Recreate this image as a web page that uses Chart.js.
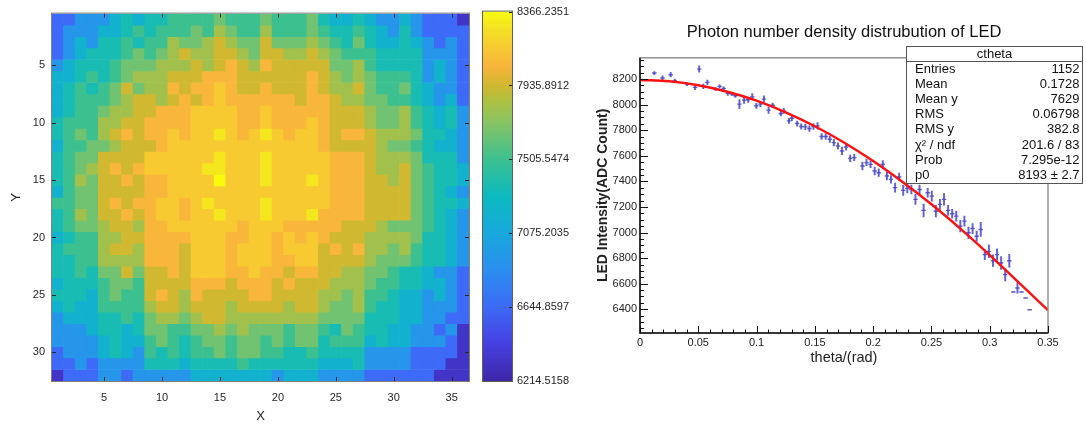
<!DOCTYPE html>
<html>
<head>
<meta charset="utf-8">
<title>LED photon density</title>
<script src="https://cdn.jsdelivr.net/npm/chart.js@4.4.1/dist/chart.umd.min.js"></script>
<style>
  html, body { margin: 0; padding: 0; background: #fff; }
  #wrap { position: relative; width: 1086px; height: 426px; overflow: hidden; }
  canvas { position: absolute; top: 0; }
</style>
</head>
<body>
<div id="wrap">
  <canvas id="heat" width="470" height="426" style="left:0"></canvas>
  <canvas id="cbar" width="120" height="426" style="left:470px"></canvas>
  <canvas id="prof" width="496" height="426" style="left:590px"></canvas>
</div>
<script>
// ---- left: intensity map, 36 x 32 cells ----
const mapXTicks = [5, 10, 15, 20, 25, 30, 35];
const mapYTicks = [5, 10, 15, 20, 25, 30];

// colour level of each cell, top row first
const levelCodes = '0123456789ABC';
const levelValues = [6330, 6645, 6930, 7180, 7350, 7505, 7655, 7805, 7935, 8055, 8160, 8290, 8366];
const heatRows = [
  '112223434455556555655564334322321110',
  '122233454555657655755565445432421111',
  '123244545576678766866676546433432121',
  '123444565678778876887787655544442221',
  '234445666777878987988888667544442321',
  '334545677788899988888898767655542321',
  '34545686779899A988988898778655643221',
  '34555678878989A999999899877665543231',
  '345567788999AAAA99A99999888766754342',
  '455577889999AAAA99A999A9888766754342',
  '4565789899A9AABA9ABA9AA9899877764432',
  '3556678889AAAAAAAAAAAAA9888876654332',
  '45668888AAAAAABAAABAAAAA999877764442',
  '45678989AAAAABBAAABAAAAA999877865443',
  '4576889899AAAACAAABAAABA999887865443',
  '3566888899AAAAAAAAAAAAAA999888865432',
  '556689899AA9ABAAAABAAAAA999888865443',
  '457688989AA9AABAAABAAAB9999888865432',
  '4566788799AAAAAA9AAA9999988876665432',
  '345577889999AAA99AA9A9A9888777764432',
  '455578879998AAA9AAA9AAA8989776754432',
  '445577779998AAA9AAA99AA8888766654432',
  '445466868898AAA99A998998877665443221',
  '344456658888999899989888777655443321',
  '444356558987988889988887767554332321',
  '343355557887888788887887667544332221',
  '233344546776788777777776666444332211',
  '222344346655667676665665465443322120',
  '222234335654566566565664555343322210',
  '122234325454556566554454444222211110',
  '112122224443444454444443334222211100',
  '011122122222333333323332222111111000'
];

// ---- colour bar ----
const cbTicks = [6214.5158, 6644.8597, 7075.2035, 7505.5474, 7935.8912, 8366.2351];

// ---- right: profile vs theta ----
const thetaPts = [0.0123, 0.0193, 0.0263, 0.0298, 0.0403, 0.0473, 0.0508, 0.0543, 0.0578, 0.0648,
  0.0683, 0.0718, 0.0753, 0.0788, 0.0818, 0.0853, 0.0893, 0.0928, 0.0963, 0.0998,
  0.1033, 0.1063, 0.1103, 0.1138, 0.1208, 0.1233, 0.1278, 0.1303, 0.1348, 0.1383,
  0.1418, 0.1453, 0.1488, 0.1523, 0.1558, 0.1593, 0.1628, 0.1663, 0.1698, 0.1733,
  0.1768, 0.1803, 0.1838, 0.1908, 0.1943, 0.1978, 0.2013, 0.2048, 0.2083, 0.2118,
  0.2153, 0.2188, 0.2223, 0.2258, 0.2293, 0.2328, 0.2363, 0.2398, 0.2433, 0.2468,
  0.2503, 0.2538, 0.2573, 0.2608, 0.2643, 0.2678, 0.2713, 0.2748, 0.2783, 0.2818,
  0.2853, 0.2888, 0.2923, 0.2958, 0.2993, 0.3028, 0.3063, 0.3098, 0.3133, 0.3168,
  0.3203, 0.3238, 0.3273, 0.3308, 0.3343];
const adcPts = [8247, 8208, 8234, 8187, 8161, 8135, 8278, 8143, 8174, 8122,
  8143, 8127, 8088, 8082, 8069, 8004, 8035, 8038, 8061, 7991,
  8004, 8043, 7957, 7995, 7931, 7951, 7873, 7894, 7852, 7829,
  7826, 7813, 7829, 7834, 7751, 7751, 7729, 7703, 7677, 7638,
  7669, 7580, 7586, 7520, 7547, 7533, 7481, 7468, 7533, 7442,
  7416, 7351, 7434, 7330, 7345, 7337, 7259, 7337, 7173, 7311,
  7285, 7167, 7220, 7259, 7173, 7147, 7128, 7050, 7089, 6998,
  7031, 6971, 7024, 6827, 6853, 6780, 6827, 6762, 6671, 6780,
  6535, 6566, 6535, 6488, 6396];
const adcErr = [12, 18, 18, 12, 12, 18, 25, 18, 18, 12,
  12, 12, 15, 12, 12, 35, 25, 20, 25, 20,
  20, 25, 25, 18, 20, 20, 20, 20, 20, 20,
  22, 22, 22, 25, 22, 22, 25, 25, 25, 30,
  25, 25, 25, 30, 25, 25, 30, 30, 30, 30,
  30, 35, 30, 40, 35, 35, 40, 35, 50, 35,
  40, 45, 40, 45, 40, 35, 40, 45, 40, 45,
  40, 40, 55, 40, 50, 45, 45, 50, 50, 50,
  0, 40, 0, 0, 0];
// red fit curve
const thetaFit = [0, 0.025, 0.05, 0.075, 0.1, 0.125, 0.15, 0.175, 0.2, 0.225, 0.25, 0.275, 0.3, 0.325, 0.35];
const adcFit = [8193, 8183, 8152, 8101, 8031, 7940, 7831, 7704, 7559, 7397, 7221, 7029, 6824, 6608, 6392];
const profXMajor = [0, 0.05, 0.1, 0.15, 0.2, 0.25, 0.3, 0.35];
const profYMajor = [6400, 6600, 6800, 7000, 7200, 7400, 7600, 7800, 8000, 8200];
const statsNames = ['Entries', 'Mean', 'Mean y', 'RMS', 'RMS y', 'χ² / ndf', 'Prob', 'p0'];
const statsVals = ['1152', '0.1728', '7629', '0.06798', '382.8', '201.6 / 83', '7.295e-12', '8193 ± 2.7'];

// ---- styling ----
Chart.defaults.font.family = '"Liberation Sans", Arial, Helvetica, sans-serif';
const txt = '#262626';
const ptColor = 'rgba(70,70,205,0.85)';
const parula = [
  [0.00, '#3e26a8'], [0.10, '#4640e0'], [0.20, '#3d6af6'], [0.30, '#2b8ef0'],
  [0.40, '#18a8dc'], [0.50, '#0cbac0'], [0.60, '#3cc090'], [0.70, '#88c464'],
  [0.76, '#b0c040'], [0.80, '#d0b830'], [0.85, '#f8b43c'], [0.90, '#f8c832'],
  [0.95, '#f3df25'], [1.00, '#f9fb0e']
];
const cbMin = cbTicks[0];
const cbMax = cbTicks[cbTicks.length - 1];

// minor tick positions of the ROOT axes (majors every 0.05 / 200, minors every 0.01 / 50)
const profXMinor = [];
for (let i = 0; i <= 35; i++) profXMinor.push(+(i / 100).toFixed(2));
const profYMinor = [];
for (let v = 6250; v <= 8350; v += 50) profYMinor.push(v);

function rgb(h) {
  return [1, 3, 5].map(i => parseInt(h.substr(i, 2), 16));
}
function parulaColor(v) {
  const f = Math.min(1, Math.max(0, (v - cbMin) / (cbMax - cbMin)));
  for (let i = 1; i < parula.length; i++) {
    if (f <= parula[i][0]) {
      const [f0, c0] = parula[i - 1];
      const [f1, c1] = parula[i];
      const t = (f - f0) / (f1 - f0);
      const a = rgb(c0), b = rgb(c1);
      return 'rgb(' + a.map((x, k) => Math.round(x + (b[k] - x) * t)).join(',') + ')';
    }
  }
  return parula[parula.length - 1][1];
}

// one floating-bar dataset per map row
const heatSets = heatRows.map((row, r) => ({
  type: 'bar',
  data: row.split('').map((ch, c) => ({ x: c + 1, y: [r + 0.5, r + 1.5] })),
  backgroundColor: row.split('').map(ch => parulaColor(levelValues[levelCodes.indexOf(ch)])),
  borderWidth: 0,
  grouped: false,
  barPercentage: 1,
  categoryPercentage: 1
}));

const mapFrame = {
  id: 'mapFrame',
  afterDatasetsDraw(chart) {
    const { ctx, chartArea: a, scales: { x, y } } = chart;
    ctx.save();
    ctx.strokeStyle = txt;
    ctx.lineWidth = 1;
    ctx.beginPath();
    mapXTicks.forEach(v => {
      const px = Math.round(x.getPixelForValue(v)) + 0.5;
      ctx.moveTo(px, a.bottom); ctx.lineTo(px, a.bottom - 4);
      ctx.moveTo(px, a.top); ctx.lineTo(px, a.top + 4);
    });
    mapYTicks.forEach(v => {
      const py = Math.round(y.getPixelForValue(v)) + 0.5;
      ctx.moveTo(a.left, py); ctx.lineTo(a.left + 4, py);
      ctx.moveTo(a.right, py); ctx.lineTo(a.right - 4, py);
    });
    ctx.stroke();
    ctx.strokeStyle = '#808080';
    ctx.strokeRect(a.left - 0.5, a.top - 0.5, a.width + 1, a.height + 1);
    ctx.restore();
  }
};

new Chart(document.getElementById('heat'), {
  type: 'bar',
  data: { datasets: heatSets },
  options: {
    responsive: false,
    animation: false,
    events: [],
    layout: { padding: { top: 10, right: 1, left: 0, bottom: 0 } },
    plugins: { legend: { display: false }, tooltip: { enabled: false } },
    scales: {
      x: {
        type: 'linear', min: 0.5, max: 36.5, offset: false,
        grid: { display: false, drawTicks: false }, border: { display: false },
        afterBuildTicks: s => { s.ticks = mapXTicks.map(v => ({ value: v })); },
        afterFit: s => { s.height = 45; },
        ticks: { font: { size: 11 }, color: txt, padding: 10, maxRotation: 0 },
        title: { display: true, text: 'X', font: { size: 13 }, color: txt, padding: { top: 0, bottom: 2 } }
      },
      y: {
        type: 'linear', min: 0.5, max: 32.5, reverse: true,
        grid: { display: false, drawTicks: false }, border: { display: false },
        afterBuildTicks: s => { s.ticks = mapYTicks.map(v => ({ value: v })); },
        afterFit: s => { s.width = 52; },
        ticks: { font: { size: 11 }, color: txt, padding: 7 },
        title: { display: true, text: 'Y', font: { size: 13 }, color: txt, padding: { top: 9, bottom: 0 } }
      }
    }
  },
  plugins: [mapFrame]
});

// ---- colour bar ----
function cbGradient(chart) {
  const y = chart.scales.y;
  if (!y) return parula[0][1];
  const y0 = y.getPixelForValue(cbMin);
  const y1 = y.getPixelForValue(cbMax);
  if (!Number.isFinite(y0) || !Number.isFinite(y1)) return parula[0][1];
  const g = chart.ctx.createLinearGradient(0, y0, 0, y1);
  parula.forEach(([f, c]) => g.addColorStop(f, c));
  return g;
}

const cbFrame = {
  id: 'cbFrame',
  afterDatasetsDraw(chart) {
    const { ctx, chartArea: a, scales: { y } } = chart;
    ctx.save();
    ctx.strokeStyle = txt;
    ctx.lineWidth = 1;
    ctx.beginPath();
    cbTicks.forEach(v => {
      const py = Math.round(y.getPixelForValue(v)) + 0.5;
      ctx.moveTo(a.right, py); ctx.lineTo(a.right - 3, py);
    });
    ctx.stroke();
    ctx.strokeStyle = '#606060';
    ctx.strokeRect(a.left - 0.5, a.top - 0.5, a.width + 1, a.height + 1);
    ctx.restore();
  }
};

new Chart(document.getElementById('cbar'), {
  type: 'bar',
  data: {
    labels: [''],
    datasets: [{
      data: [[cbMin, cbMax]],
      backgroundColor: c => cbGradient(c.chart),
      borderWidth: 0,
      barPercentage: 1,
      categoryPercentage: 1
    }]
  },
  options: {
    responsive: false,
    animation: false,
    events: [],
    layout: { padding: { left: 13, top: 10, right: 0, bottom: 45 } },
    plugins: { legend: { display: false }, tooltip: { enabled: false } },
    scales: {
      x: { display: false },
      y: {
        position: 'right', min: cbMin, max: cbMax,
        grid: { display: false, drawTicks: false }, border: { display: false },
        afterBuildTicks: s => { s.ticks = cbTicks.map(v => ({ value: v })); },
        afterFit: s => { s.width = 78; },
        ticks: { font: { size: 11 }, color: txt, padding: 5, callback: v => v.toFixed(4) }
      }
    }
  },
  plugins: [cbFrame]
});

// ---- profile ----
const rootFrame = {
  id: 'rootFrame',
  afterDatasetsDraw(chart) {
    const { ctx, chartArea: a, scales: { x, y } } = chart;
    ctx.save();
    ctx.strokeStyle = '#909090';
    ctx.lineWidth = 1.5;
    ctx.strokeRect(a.left, a.top, a.width, a.height);
    ctx.strokeStyle = '#111';
    ctx.lineWidth = 1;
    ctx.beginPath();
    x.ticks.forEach(t => {
      const px = Math.round(x.getPixelForValue(t.value)) + 0.5;
      ctx.moveTo(px, a.bottom); ctx.lineTo(px, a.bottom - (t.label ? 7 : 3.5));
    });
    y.ticks.forEach(t => {
      const py = Math.round(y.getPixelForValue(t.value)) + 0.5;
      ctx.moveTo(a.left, py); ctx.lineTo(a.left + (t.label ? 8 : 4), py);
    });
    ctx.stroke();
    ctx.lineWidth = 1.5;
    ctx.beginPath();
    ctx.moveTo(a.left, a.top); ctx.lineTo(a.left, a.bottom); ctx.lineTo(a.right, a.bottom);
    ctx.stroke();
    ctx.restore();
  },
  afterDraw(chart) {
    // statistics box
    const ctx = chart.ctx;
    const x0 = 316.5, y0 = 46.5, w = 176, h = 137;
    ctx.save();
    ctx.fillStyle = '#fff';
    ctx.fillRect(x0, y0, w, h);
    ctx.strokeStyle = '#555';
    ctx.lineWidth = 1;
    ctx.strokeRect(x0, y0, w, h);
    ctx.beginPath();
    ctx.moveTo(x0, 61.5); ctx.lineTo(x0 + w, 61.5);
    ctx.stroke();
    ctx.fillStyle = '#111';
    ctx.font = '13px "Liberation Sans", Arial, sans-serif';
    ctx.textBaseline = 'middle';
    ctx.textAlign = 'center';
    ctx.fillText('ctheta', x0 + w / 2, 54.5);
    statsNames.forEach((n, i) => {
      const yy = 69.5 + i * 15.1;
      ctx.textAlign = 'left';
      ctx.fillText(n, x0 + 8.5, yy);
      ctx.textAlign = 'right';
      ctx.fillText(statsVals[i], x0 + w - 3, yy);
    });
    ctx.restore();
  }
};

new Chart(document.getElementById('prof'), {
  type: 'scatter',
  data: {
    datasets: [
      {
        type: 'line',
        data: thetaFit.map((t, i) => ({ x: t, y: adcFit[i] })),
        borderColor: '#ff1010',
        borderWidth: 2.4,
        pointRadius: 0,
        cubicInterpolationMode: 'monotone',
        fill: false
      },
      {
        type: 'scatter',
        data: thetaPts.map((t, i) => ({ x: t, y: adcPts[i] })),
        pointStyle: 'line',
        pointRadius: 2.2,
        borderColor: ptColor,
        pointBorderWidth: 1.4
      },
      {
        type: 'bar',
        data: thetaPts.map((t, i) => ({ x: t, y: [adcPts[i] - adcErr[i], adcPts[i] + adcErr[i]] })),
        backgroundColor: ptColor,
        borderWidth: 0,
        barThickness: 1.3,
        grouped: false
      }
    ]
  },
  options: {
    responsive: false,
    animation: false,
    events: [],
    layout: { padding: { left: 0, right: 38, top: 0, bottom: 0 } },
    plugins: {
      legend: { display: false },
      tooltip: { enabled: false },
      title: {
        display: true,
        fullSize: false,
        text: 'Photon number density distrubution of LED',
        color: '#111',
        font: { size: 16.5, weight: 'normal' },
        padding: { top: 23, bottom: 15 }
      }
    },
    scales: {
      x: {
        type: 'linear', min: 0, max: 0.35, offset: false,
        grid: { display: false, drawTicks: false }, border: { display: false },
        afterBuildTicks: s => { s.ticks = profXMinor.map(v => ({ value: v })); },
        afterFit: s => { s.height = 93; },
        ticks: {
          autoSkip: false, maxRotation: 0, font: { size: 11 }, color: '#222', padding: 3,
          callback: v => profXMajor.some(m => Math.abs(m - v) < 1e-9) ? String(+v.toFixed(2)) : ''
        },
        title: { display: true, text: 'theta/(rad)', color: '#222', font: { size: 14.5 }, padding: { top: 0, bottom: 59 } }
      },
      y: {
        type: 'linear', min: cbMin, max: cbMax,
        grid: { display: false, drawTicks: false }, border: { display: false },
        afterBuildTicks: s => { s.ticks = profYMinor.map(v => ({ value: v })); },
        afterFit: s => { s.width = 50; },
        ticks: {
          autoSkip: false, font: { size: 11 }, color: '#222', padding: 3,
          callback: v => profYMajor.includes(v) ? String(v) : ''
        },
        title: { display: true, text: 'LED Intensity(ADC Count)', color: '#222', font: { size: 14, weight: 'bold' }, padding: { top: 4.5, bottom: 0 } }
      }
    }
  },
  plugins: [rootFrame]
});
</script>
</body>
</html>
